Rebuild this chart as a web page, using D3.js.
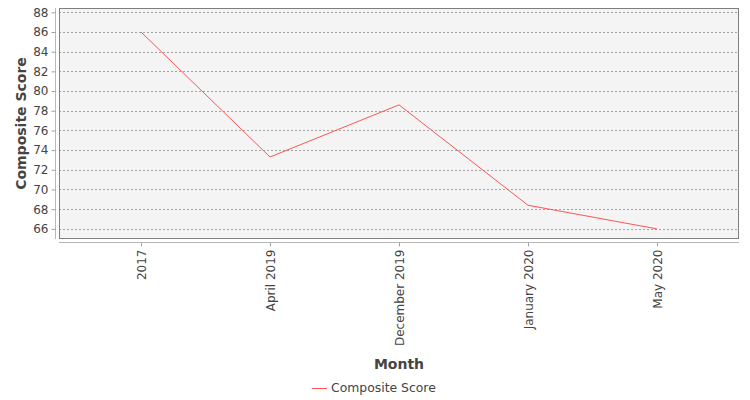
<!DOCTYPE html>
<html>
<head>
<meta charset="utf-8">
<script src="https://cdn.jsdelivr.net/npm/d3@7"></script>
<style>
  body { margin: 0; background: #fff; }
  svg { display: block; }
  text { font-family: "DejaVu Sans", sans-serif; }
</style>
</head>
<body>
<div id="chart"></div>
<script>
const categories = ["2017", "April 2019", "December 2019", "January 2020", "May 2020"];
const compositeScore = [86.0, 73.3, 78.6, 68.4, 66.0];
const yTicks = [66, 68, 70, 72, 74, 76, 78, 80, 82, 84, 86, 88];
const seriesName = "Composite Score";
const xTitle = "Month";
const yTitle = "Composite Score";

const W = 750, H = 400;
const plot = { left: 59, top: 8, right: 739, bottom: 239 };

const svg = d3.select("#chart").append("svg").attr("width", W).attr("height", H);
svg.append("rect").attr("width", W).attr("height", H).attr("fill", "#fff");

const x = d3.scalePoint().domain(categories).range([plot.left, plot.right]).padding(0.636);
const y = d3.scaleLinear().domain([64.97, 88.44]).range([plot.bottom, plot.top]);

// plot background
svg.append("rect")
  .attr("x", plot.left).attr("y", plot.top)
  .attr("width", plot.right - plot.left).attr("height", plot.bottom - plot.top)
  .attr("fill", "#f4f4f4");

// gridlines
svg.append("g").selectAll("line").data(yTicks).join("line")
  .attr("x1", plot.left).attr("x2", plot.right)
  .attr("y1", d => Math.round(y(d)) + 0.5).attr("y2", d => Math.round(y(d)) + 0.5)
  .attr("stroke", "#a4a4a4").attr("stroke-width", 1).attr("stroke-dasharray", "2,2");

// plot outline
svg.append("rect")
  .attr("x", plot.left + 0.5).attr("y", plot.top + 0.5)
  .attr("width", plot.right - plot.left - 1).attr("height", plot.bottom - plot.top - 1)
  .attr("fill", "none").attr("stroke", "#808080").attr("stroke-width", 1);

// y axis
const yAxis = d3.axisLeft(y).tickValues(yTicks).tickSize(4).tickPadding(3).tickFormat(d3.format("d"));
const gy = svg.append("g").attr("transform", "translate(55.5,0)").call(yAxis);
gy.select(".domain").attr("stroke", "#b8b8b8").attr("d", `M0,${plot.top}V${plot.bottom}`);
gy.selectAll(".tick line").attr("stroke", "#a0a0a0");
gy.selectAll(".tick text").attr("fill", "#444").style("font-size", "12px");

// x axis
const xAxis = d3.axisBottom(x).tickSize(4).tickPadding(0);
const gx = svg.append("g").attr("transform", "translate(0,242.5)").call(xAxis);
gx.select(".domain").attr("stroke", "#b8b8b8").attr("d", `M${plot.left},0H${plot.right}`);
gx.selectAll(".tick line").attr("stroke", "#a0a0a0");
gx.selectAll(".tick text")
  .attr("fill", "#444").style("font-size", "12px")
  .attr("text-anchor", "end")
  .attr("transform", "rotate(-90)")
  .attr("x", -7).attr("y", 0).attr("dy", "0.35em");

// line
const line = d3.line().x((d, i) => x(categories[i])).y(d => y(d));
svg.append("path").datum(compositeScore)
  .attr("d", line).attr("fill", "none")
  .attr("stroke", "#ff5555").attr("stroke-width", 1);

// axis titles
svg.append("text")
  .attr("transform", `translate(26,${(plot.top + plot.bottom) / 2}) rotate(-90)`)
  .attr("text-anchor", "middle")
  .attr("fill", "#444").style("font-size", "14px").style("font-weight", "bold")
  .text(yTitle);

svg.append("text")
  .attr("x", (plot.left + plot.right) / 2).attr("y", 369)
  .attr("text-anchor", "middle")
  .attr("fill", "#444").style("font-size", "14px").style("font-weight", "bold")
  .text(xTitle);

// legend
const lg = svg.append("g");
lg.append("line").attr("x1", 312).attr("x2", 327).attr("y1", 388.5).attr("y2", 388.5)
  .attr("stroke", "#ff5555").attr("stroke-width", 1);
lg.append("text").attr("x", 331).attr("y", 388).attr("dy", "0.35em")
  .attr("fill", "#444").style("font-size", "12.4px")
  .text(seriesName);
</script>
</body>
</html>
